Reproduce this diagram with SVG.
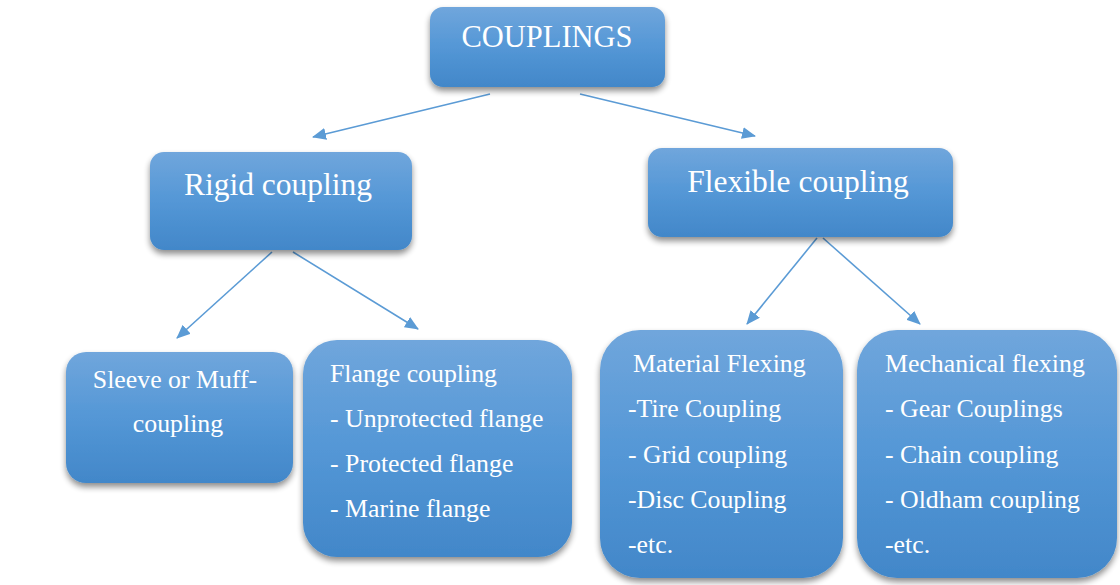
<svg xmlns="http://www.w3.org/2000/svg" width="1120" height="585" viewBox="0 0 1120 585">
<defs>
<linearGradient id="g" x1="0" y1="0" x2="0" y2="1">
<stop offset="0" stop-color="#70a6dc"/>
<stop offset="0.5" stop-color="#5497d6"/>
<stop offset="1" stop-color="#4287c9"/>
</linearGradient>
<filter id="sh" x="-10%" y="-10%" width="120%" height="130%">
<feGaussianBlur in="SourceAlpha" stdDeviation="3"/>
<feOffset dx="0" dy="4" result="b"/>
<feComponentTransfer><feFuncA type="linear" slope="0.45"/></feComponentTransfer>
<feMerge><feMergeNode/><feMergeNode in="SourceGraphic"/></feMerge>
</filter>
<marker id="ah" viewBox="0 0 14 12" refX="13" refY="6" markerWidth="14" markerHeight="12" markerUnits="userSpaceOnUse" orient="auto">
<path d="M0,0 L14,6 L0,12 Z" fill="#5b9bd5"/>
</marker>
<style>
.box{fill:url(#g);filter:url(#sh);}
.t{font-family:"Liberation Serif","Times New Roman",serif;fill:#ffffff;}
.big{font-size:31.5px;text-anchor:middle;}
.sm{font-size:25.8px;}
.c{text-anchor:middle;}
.ln{stroke:#5b9bd5;stroke-width:1.6;fill:none;marker-end:url(#ah);}
</style>
</defs>
<rect width="1120" height="585" fill="#ffffff"/>
<g id="connectors">
<line class="ln" x1="490" y1="94" x2="313" y2="137"/>
<line class="ln" x1="580" y1="94" x2="755" y2="136"/>
<line class="ln" x1="272" y1="252" x2="177" y2="338"/>
<line class="ln" x1="293" y1="252" x2="418" y2="329"/>
<line class="ln" x1="817" y1="238" x2="747" y2="324"/>
<line class="ln" x1="823" y1="238" x2="920" y2="324"/>
</g>
<g id="couplings">
<rect class="box" x="430" y="7" width="235" height="80" rx="13"/>
<text class="t big" x="547" y="47" style="font-size:30.5px">COUPLINGS</text>
</g>
<g id="rigid">
<rect class="box" x="150" y="152" width="262" height="98" rx="14"/>
<text class="t big" x="278" y="195">Rigid coupling</text>
</g>
<g id="flexible">
<rect class="box" x="648" y="148" width="305" height="89" rx="14"/>
<text class="t big" x="798" y="192">Flexible coupling</text>
</g>
<g id="sleeve">
<rect class="box" x="66" y="352" width="227" height="131" rx="20"/>
<text class="t sm c" x="175" y="388">Sleeve or Muff-</text>
<text class="t sm c" x="178" y="432">coupling</text>
</g>
<g id="flange">
<rect class="box" x="303" y="340" width="269" height="217" rx="34"/>
<text class="t sm" x="330" y="382">Flange coupling</text>
<text class="t sm" x="330" y="427">- Unprotected flange</text>
<text class="t sm" x="330" y="472">- Protected flange</text>
<text class="t sm" x="330" y="517">- Marine flange</text>
</g>
<g id="material">
<rect class="box" x="600" y="330" width="243" height="248" rx="40"/>
<text class="t sm" x="633" y="372">Material Flexing</text>
<text class="t sm" x="628" y="417">-Tire Coupling</text>
<text class="t sm" x="628" y="463">- Grid coupling</text>
<text class="t sm" x="628" y="508">-Disc Coupling</text>
<text class="t sm" x="628" y="553">-etc.</text>
</g>
<g id="mechanical">
<rect class="box" x="857" y="330" width="260" height="248" rx="40"/>
<text class="t sm" x="885" y="372">Mechanical flexing</text>
<text class="t sm" x="885" y="417">- Gear Couplings</text>
<text class="t sm" x="885" y="463">- Chain coupling</text>
<text class="t sm" x="885" y="508">- Oldham coupling</text>
<text class="t sm" x="885" y="553">-etc.</text>
</g>
</svg>
